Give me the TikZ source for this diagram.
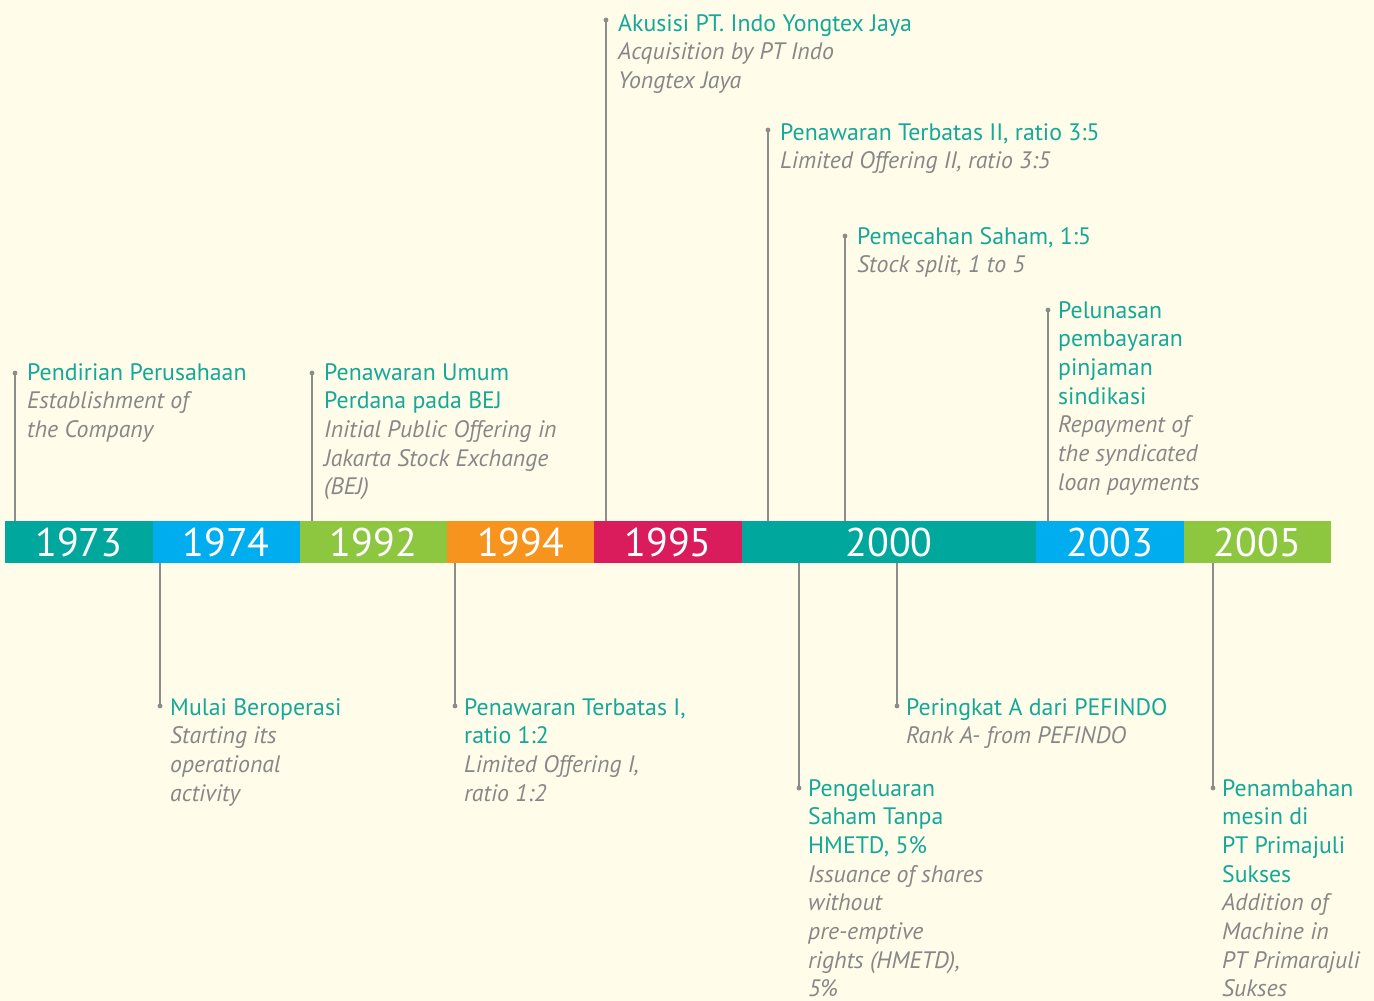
\documentclass[tikz,border=0pt]{standalone}
\usepackage{fontspec}
\setmainfont{PT Sans}
\definecolor{bg}{RGB}{255,252,234}
\definecolor{cteal}{RGB}{0,167,157}
\definecolor{cblue}{RGB}{0,174,239}
\definecolor{cgreen}{RGB}{141,198,63}
\definecolor{corange}{RGB}{247,148,29}
\definecolor{ccrim}{RGB}{218,28,92}
\definecolor{ttl}{RGB}{20,168,152}
\definecolor{gry}{RGB}{135,135,135}
\definecolor{lgry}{RGB}{140,140,140}
\newcommand{\ttlline}[1]{\textcolor{ttl}{#1}}
\newcommand{\subline}[1]{\textit{#1}}
\begin{document}
\begin{tikzpicture}[x=1pt,y=-1pt,
  seg/.style={minimum width=147.3pt, minimum height=42pt, inner sep=0, text=white,
    font=\fontsize{40}{44}\selectfont, anchor=west},
  ann/.style={anchor=base west, align=left, inner sep=0, text=gry,
    font=\fontsize{23.8}{28.7}\selectfont},
  conn/.style={draw=lgry, line width=1.8pt},
  dotc/.style={fill=lgry, draw=none}]
\fill[bg] (0,0) rectangle (1374,1001);
\useasboundingbox (0,0) rectangle (1374,1001);
% bar
\node[seg, fill=cteal] (y1973) at (5,542) {1973};
\node[seg, fill=cblue] (y1974) at (152.3,542) {1974};
\node[seg, fill=cgreen] (y1992) at (299.6,542) {1992};
\node[seg, fill=corange] (y1994) at (446.9,542) {1994};
\node[seg, fill=ccrim] (y1995) at (594.2,542) {1995};
\node[seg, fill=cteal, minimum width=294.6pt] (y2000) at (741.5,542) {2000};
\node[seg, fill=cblue] (y2003) at (1036.1,542) {2003};
\node[seg, fill=cgreen] (y2005) at (1183.4,542) {2005};
% dots (connector ends)
\coordinate (d1) at (15,373);
\coordinate (d2) at (312,373);
\coordinate (d3) at (606,20);
\coordinate (d4) at (768,130);
\coordinate (d5) at (845,236);
\coordinate (d6) at (1048,310);
\coordinate (d7) at (160,706);
\coordinate (d8) at (455,706);
\coordinate (d9) at (799,788);
\coordinate (d10) at (897,706);
\coordinate (d11) at (1213,788);
% connectors
\foreach \d/\s in {d1/y1973,d2/y1992,d3/y1995,d4/y2000,d5/y2000,d6/y2003}{
  \draw[conn] (\d) -- (\d |- \s.north);
  \fill[dotc] (\d) circle (2.4pt);
}
\foreach \d/\s in {d7/y1974,d8/y1994,d9/y2000,d10/y2000,d11/y2005}{
  \draw[conn] (\d) -- (\d |- \s.south);
  \fill[dotc] (\d) circle (2.4pt);
}
% annotations (anchored at the baseline of the last line)
\node[ann] (a1) at (27,437.4) {\ttlline{Pendirian Perusahaan}\\ \subline{Establishment of}\\ \subline{the Company}};
\node[ann] (a2) at (324,494.8) {\ttlline{Penawaran Umum}\\ \ttlline{Perdana pada BEJ}\\ \subline{Initial Public Offering in}\\ \subline{Jakarta Stock Exchange}\\ \subline{(BEJ)}};
\node[ann] (a3) at (618,88.4) {\ttlline{Akusisi PT. Indo Yongtex Jaya}\\ \subline{Acquisition by PT Indo}\\ \subline{Yongtex Jaya}};
\node[ann] (a4) at (780,168.7) {\ttlline{Penawaran Terbatas II, ratio 3:5}\\ \subline{Limited Offering II, ratio 3:5}};
\node[ann] (a5) at (857,272.7) {\ttlline{Pemecahan Saham, 1:5}\\ \subline{Stock split, 1 to 5}};
\node[ann] (a6) at (1058,490.2) {\ttlline{Pelunasan}\\ \ttlline{pembayaran}\\ \ttlline{pinjaman}\\ \ttlline{sindikasi}\\ \subline{Repayment of}\\ \subline{the syndicated}\\ \subline{loan payments}};
\node[ann] (a7) at (170,801.1) {\ttlline{Mulai Beroperasi}\\ \subline{Starting its}\\ \subline{operational}\\ \subline{activity}};
\node[ann] (a8) at (464,801.1) {\ttlline{Penawaran Terbatas I,}\\ \ttlline{ratio 1:2}\\ \subline{Limited Offering I,}\\ \subline{ratio 1:2}};
\node[ann] (a9) at (808,996.9) {\ttlline{Pengeluaran}\\ \ttlline{Saham Tanpa}\\ \ttlline{HMETD, 5\%}\\ \subline{Issuance of shares}\\ \subline{without}\\ \subline{pre-emptive}\\ \subline{rights (HMETD),}\\ \subline{5\%}};
\node[ann] (a10) at (906,743.7) {\ttlline{Peringkat A dari PEFINDO}\\ \subline{Rank A- from PEFINDO}};
\node[ann] (a11) at (1222,996.9) {\ttlline{Penambahan}\\ \ttlline{mesin di}\\ \ttlline{PT Primajuli}\\ \ttlline{Sukses}\\ \subline{Addition of}\\ \subline{Machine in}\\ \subline{PT Primarajuli}\\ \subline{Sukses}};
\end{tikzpicture}
\end{document}
